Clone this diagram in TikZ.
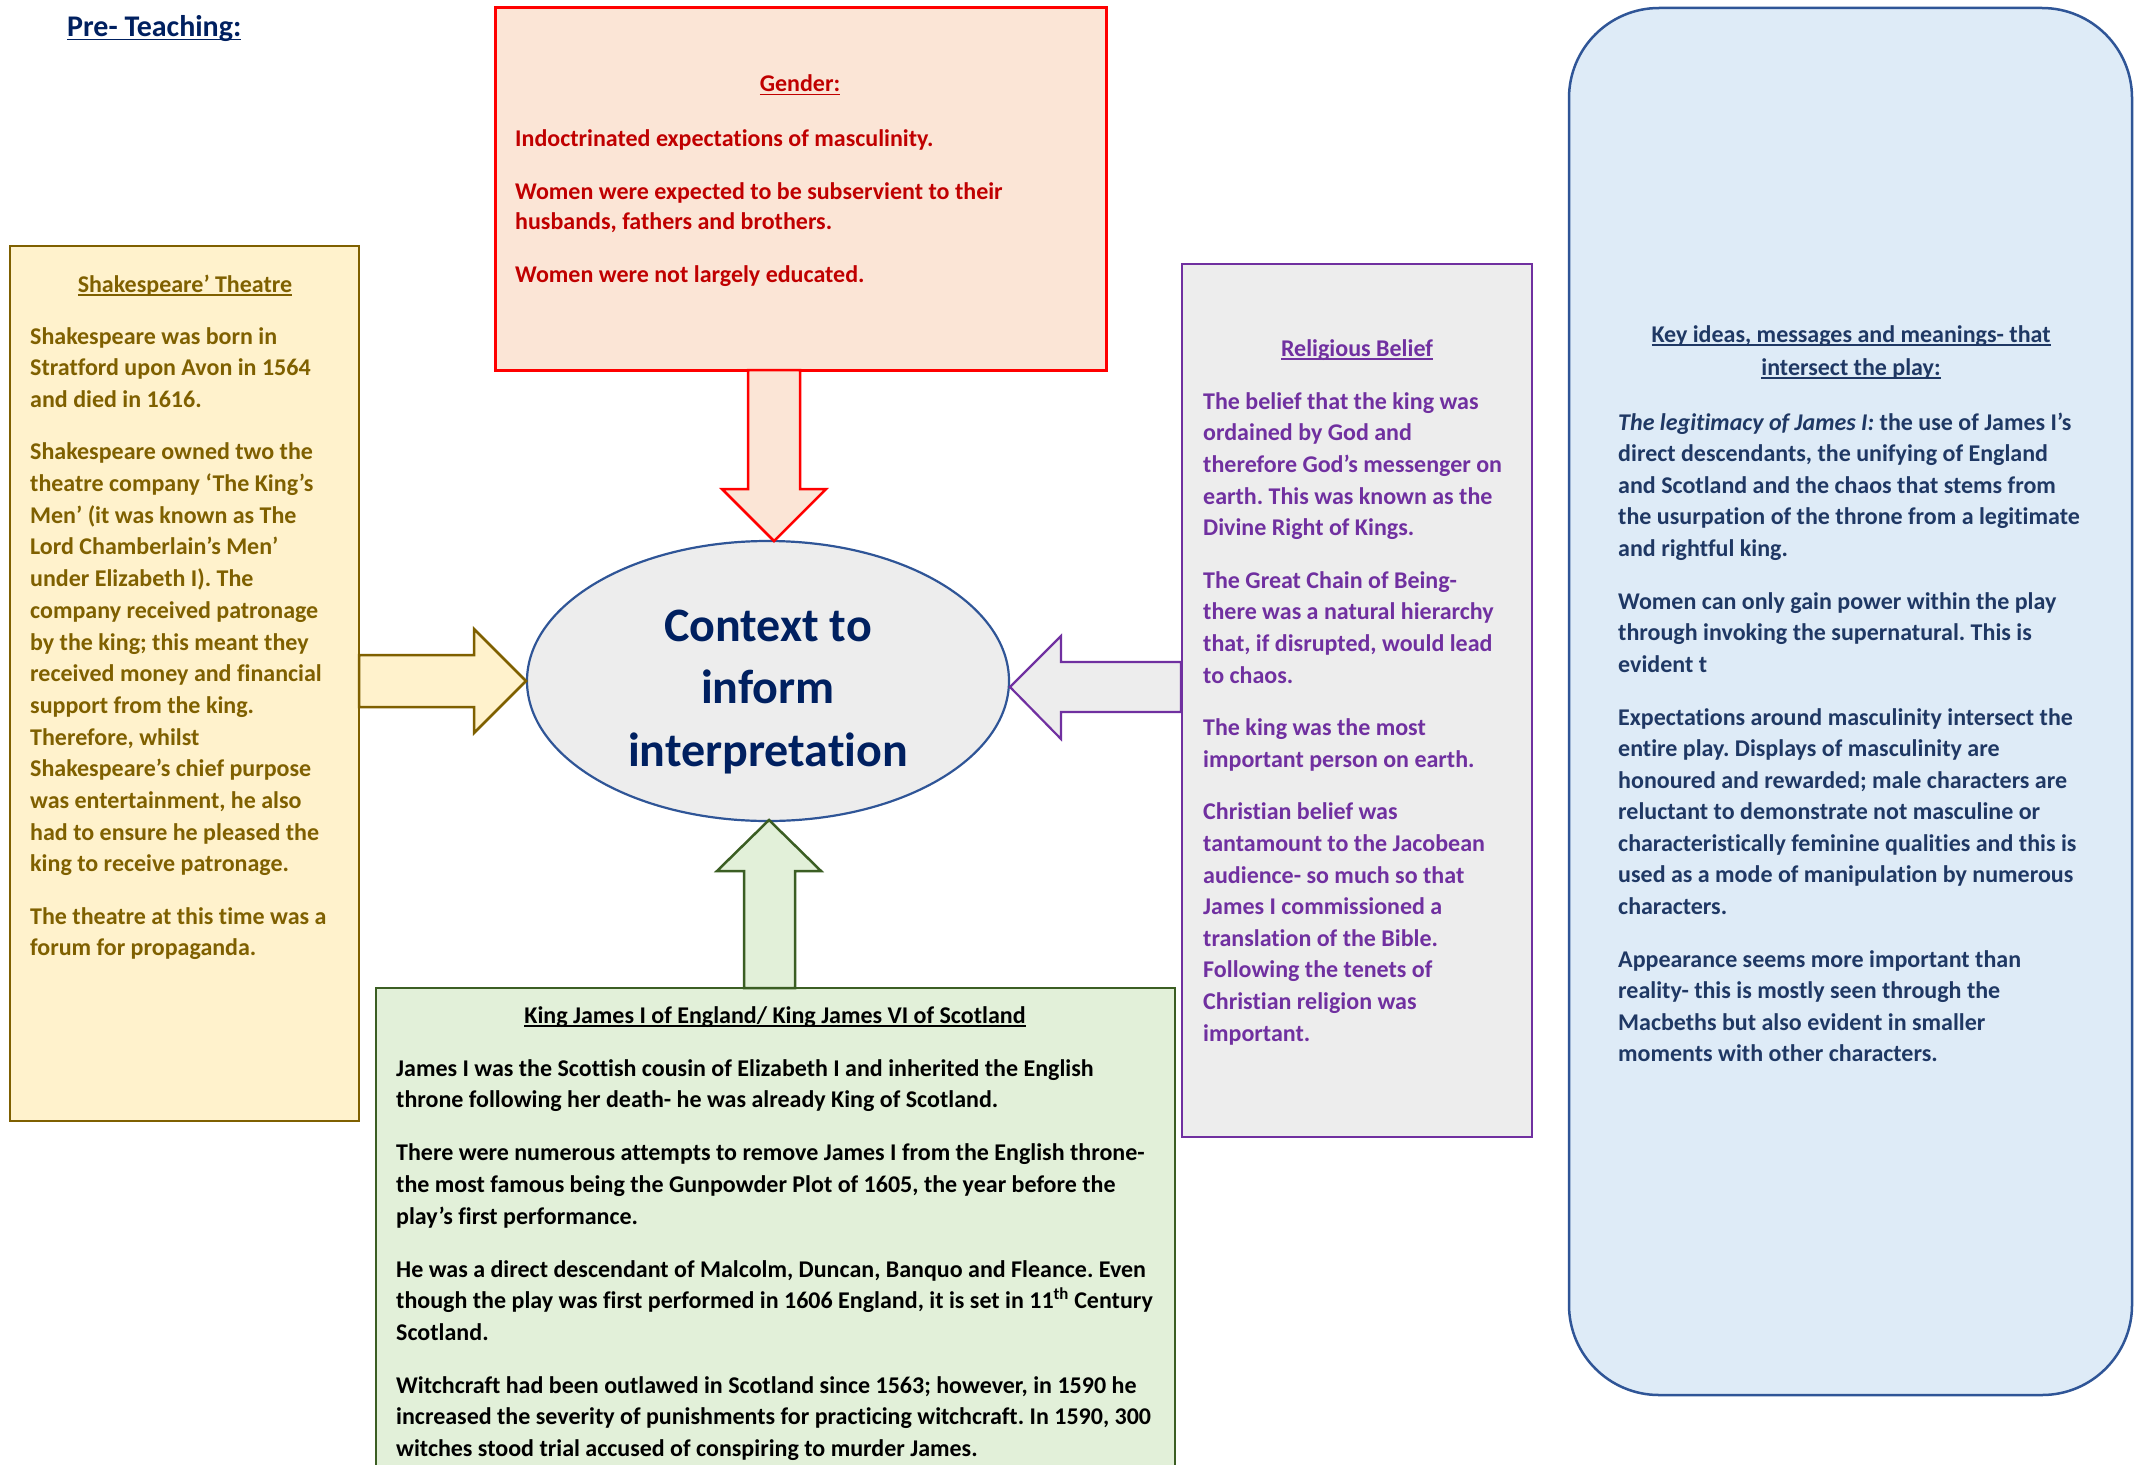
\documentclass[tikz,border=0pt]{standalone}
\usepackage{fontspec}
\setmainfont{Carlito}[Ligatures={NoCommon,TeX}]
\usetikzlibrary{shapes.geometric}
\frenchspacing
\definecolor{redtxt}{HTML}{C00000}
\definecolor{redline}{HTML}{FF0000}
\definecolor{redfill}{HTML}{FBE5D6}
\definecolor{yelfill}{HTML}{FFF2CC}
\definecolor{yelline}{HTML}{7F6000}
\definecolor{purline}{HTML}{7030A0}
\definecolor{grayfill}{HTML}{EDEDED}
\definecolor{ellline}{HTML}{2F5597}
\definecolor{navy}{HTML}{002060}
\definecolor{grnfill}{HTML}{E2F0D9}
\definecolor{grnline}{HTML}{3B5E23}
\definecolor{blufill}{HTML}{DEEBF7}
\definecolor{bluline}{HTML}{2F5597}
\definecolor{blutxt}{HTML}{1F3864}
\newcommand{\firstln}{\rule{0pt}{20pt}}
\newcommand{\myul}[1]{\leavevmode{\setbox0\hbox{#1}\rlap{\rule[-3.5pt]{\wd0}{1.6pt}}\box0}}
\begin{document}
\frenchspacing
\begin{tikzpicture}[x=1pt,y=-1pt,
  panel/.style={draw, line width=2.5pt, inner sep=0pt, outer sep=0pt, rectangle},
  blockarrow/.style={line width=2.5pt, line join=miter},
  body/.style={anchor=north west, inner sep=0pt, align=left, yshift=-3pt},
  ttl/.style={anchor=base, inner sep=0pt, yshift=-3pt, font=\fontsize{24}{31.6}\selectfont\bfseries}]
\useasboundingbox (0,0) rectangle (2143,1464);
\fill[white] (0,0) rectangle (2143,1464);

% title
\node[anchor=base west, inner sep=0pt, text=navy, font=\fontsize{30}{34}\selectfont\bfseries] (pre) at (67,37) {\myul{Pre- Teaching:}};

% boxes
\node[panel, draw=redline, line width=3pt, fill=redfill, minimum width=611pt, minimum height=362pt] (gender) at (800.5,189) {};
\node[panel, draw=yelline, fill=yelfill, minimum width=349pt, minimum height=875pt] (theatre) at (184.5,683.5) {};
\node[panel, draw=purline, fill=grayfill, minimum width=350pt, minimum height=873pt] (relig) at (1357,700.5) {};
\node[panel, draw=bluline, fill=blufill, rounded corners=90pt, minimum width=563pt, minimum height=1387pt] (keyideas) at (1850.5,701.5) {};
\node[panel, draw=grnline, fill=grnfill, minimum width=799pt, minimum height=487pt] (james) at (775.5,1231.5) {};

% centre ellipse
\node[ellipse, draw=ellline, line width=2.2pt, fill=grayfill, minimum width=482pt, minimum height=280pt, inner sep=0pt] (ctx) at (768,681) {};
\node[inner sep=0pt, align=center, text=navy, font=\fontsize{48}{62.5}\selectfont\bfseries] (ctxtext) at (768,692) {Context to\\inform\\interpretation};

% block arrows
\filldraw[blockarrow, draw=redline, fill=redfill] (748,370) -- (748,489) -- (722,489) -- (774,541) -- (826,489) -- (800,489) -- (800,370) -- cycle;
\filldraw[blockarrow, draw=yelline, fill=yelfill] (359,655) -- (474,655) -- (474,629) -- (526,681) -- (474,733) -- (474,707) -- (359,707) -- cycle;
\filldraw[blockarrow, draw=purline, line width=2.2pt, fill=grayfill] (1181,662) -- (1061,662) -- (1061,636) -- (1010,687) -- (1061,739) -- (1061,712) -- (1181,712) -- cycle;
\filldraw[blockarrow, draw=grnline, fill=grnfill] (744,988) -- (744,871) -- (717,871) -- (769,820) -- (821,871) -- (795,871) -- (795,988) -- cycle;

% Gender text
\node[ttl, text=redtxt] (gtitle) at (800,89) {\myul{Gender:}};
\node[body, text=redtxt, font=\fontsize{24}{30}\selectfont\bfseries] (gbody) at (515,123) {\firstln Indoctrinated expectations of masculinity.\\[23pt]
Women were expected to be subservient to their\\
husbands, fathers and brothers.\\[23pt]
Women were not largely educated.};

% Theatre text
\node[ttl, text=yelline] (ttitle) at (185,289) {\myul{Shakespeare’ Theatre}};
\node[body, text=yelline, font=\fontsize{24}{31.7}\selectfont\bfseries] (tbody) at (30,321) {\firstln Shakespeare was born in\\
Stratford upon Avon in 1564\\
and died in 1616.\\[20.5pt]
Shakespeare owned two the\\
theatre company ‘The King’s\\
Men’ (it was known as The\\
Lord Chamberlain’s Men’\\
under Elizabeth I). The\\
company received patronage\\
by the king; this meant they\\
received money and financial\\
support from the king.\\
Therefore, whilst\\
Shakespeare’s chief purpose\\
was entertainment, he also\\
had to ensure he pleased the\\
king to receive patronage.\\[20.5pt]
The theatre at this time was a\\
forum for propaganda.};

% Religious text
\node[ttl, text=purline] (rtitle) at (1357,353) {\myul{Religious Belief}};
\node[body, text=purline, font=\fontsize{24}{31.6}\selectfont\bfseries] (rbody) at (1203,386) {\firstln The belief that the king was\\
ordained by God and\\
therefore God’s messenger on\\
earth. This was known as the\\
Divine Right of Kings.\\[21pt]
The Great Chain of Being-\\
there was a natural hierarchy\\
that, if disrupted, would lead\\
to chaos.\\[21pt]
The king was the most\\
important person on earth.\\[21pt]
Christian belief was\\
tantamount to the Jacobean\\
audience- so much so that\\
James I commissioned a\\
translation of the Bible.\\
Following the tenets of\\
Christian religion was\\
important.};

% Key ideas text
\node[ttl, text=blutxt] (ktitle1) at (1851,339) {\myul{Key ideas, messages and meanings- that}};
\node[ttl, text=blutxt] (ktitle2) at (1851,372) {\myul{intersect the play:}};
\node[body, text=blutxt, font=\fontsize{24}{31.5}\selectfont\bfseries] (kbody) at (1618,407) {\firstln\textit{The legitimacy of James I:} the use of James I’s\\
direct descendants, the unifying of England\\
and Scotland and the chaos that stems from\\
the usurpation of the throne from a legitimate\\
and rightful king.\\[21.5pt]
Women can only gain power within the play\\
through invoking the supernatural. This is\\
evident t\\[21.5pt]
Expectations around masculinity intersect the\\
entire play. Displays of masculinity are\\
honoured and rewarded; male characters are\\
reluctant to demonstrate not masculine or\\
characteristically feminine qualities and this is\\
used as a mode of manipulation by numerous\\
characters.\\[21.5pt]
Appearance seems more important than\\
reality- this is mostly seen through the\\
Macbeths but also evident in smaller\\
moments with other characters.};

% James text
\node[ttl, text=black] (jtitle) at (775,1020) {\myul{King James I of England/ King James VI of Scotland}};
\node[body, text=black, font=\fontsize{24}{31.6}\selectfont\bfseries] (jbody) at (396,1053) {\firstln James I was the Scottish cousin of Elizabeth I and inherited the English\\
throne following her death- he was already King of Scotland.\\[21.4pt]
There were numerous attempts to remove James I from the English throne-\\
the most famous being the Gunpowder Plot of 1605, the year before the\\
play’s first performance.\\[21.4pt]
He was a direct descendant of Malcolm, Duncan, Banquo and Fleance. Even\\
though the play was first performed in 1606 England, it is set in 11\textsuperscript{th} Century\\
Scotland.\\[21.4pt]
Witchcraft had been outlawed in Scotland since 1563; however, in 1590 he\\
increased the severity of punishments for practicing witchcraft. In 1590, 300\\
witches stood trial accused of conspiring to murder James.};
\end{tikzpicture}
\end{document}
